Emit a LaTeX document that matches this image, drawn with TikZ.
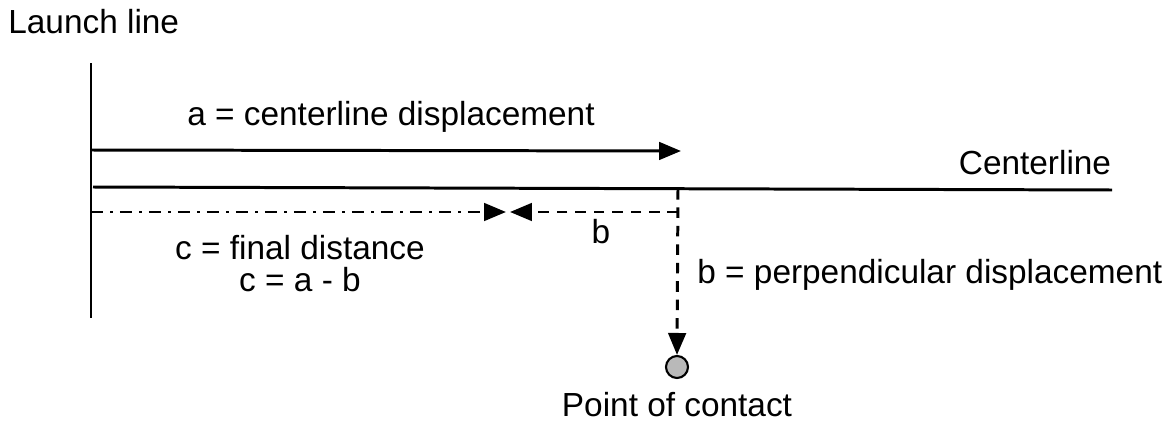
\documentclass[tikz,border=0pt]{standalone}
\usepackage{fontspec}
\setmainfont{Liberation Sans}
\usetikzlibrary{arrows.meta}
\tikzset{
  lbl/.style={font=\fontsize{19}{23}\selectfont, inner sep=0pt},
  line/.style={line width=1.7pt},
  tip/.style={-{Triangle[length=12.5pt, width=10pt]}}
}
\begin{document}
\begin{tikzpicture}[x=0.02cm, y=-0.02cm]
    \useasboundingbox (0,0) rectangle (1170,426);

    % Draw launch line and centerline
    \coordinate (launchtop) at (91,63);
    \coordinate (launchbot) at (91,318);
    \coordinate (centerstart) at (93,187);
    \coordinate (centerend) at (1112,190);
    \draw[line] (launchtop) -- (launchbot);
    \draw[line] (centerstart) -- (centerend);
    \node[lbl, anchor=west] (launchlabel) at (8,22) {Launch line};
    \node[lbl] (centerlabel) at (1035,163) {Centerline};

    % Draw centerline displacement a
    \coordinate (astart) at (91,150);
    \coordinate (aend) at (681,151);
    \draw[line, tip] (astart) -- (aend);
    \node[lbl] (alabel) at (391,117) {a = centerline displacement};

    % Draw final distance c and b going back
    \coordinate (cstart) at (91,212);
    \coordinate (cend) at (506,212);
    \coordinate (bcorner) at (678,212);
    \coordinate (bend) at (510,212);
    \coordinate (btop) at (678,189);
    \draw[line, tip, dash pattern=on 7pt off 4pt on 1.5pt off 4pt] (cstart) -- (cend);
    \draw[line, tip, dash pattern=on 6pt off 4.5pt] (bcorner) -- (bend);
    \node[lbl] (blabel) at (601,232) {b};
    \node[lbl] (clabel) at (300,248) {c = final distance};
    \node[lbl] (cformula) at (300,280) {c = a - b};

    % Draw perpendicular displacement to point of contact
    \node[circle, draw, line width=1.2pt, fill=gray!55, minimum size=0.44cm, inner sep=0pt] (contact) at (677,367) {};
    \draw[line, tip, dash pattern=on 6pt off 4.5pt] (btop) -- (contact.north);
    \node[lbl, anchor=west] (perplabel) at (697,275) {b = perpendicular displacement};
    \node[lbl] (contactlabel) at (677,405) {Point of contact};
\end{tikzpicture}
\end{document}
